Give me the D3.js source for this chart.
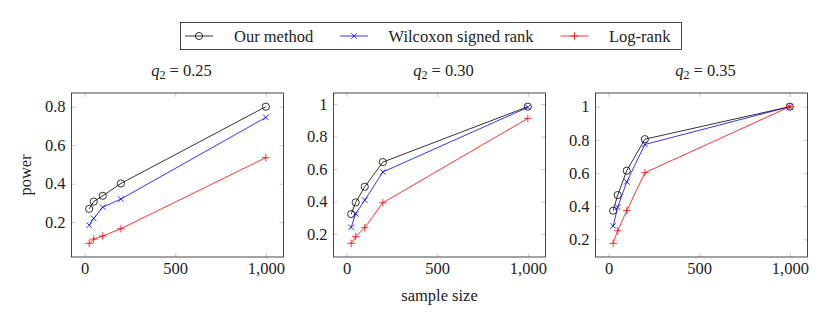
<!DOCTYPE html>
<html>
<head>
<meta charset="utf-8">
<script src="https://cdn.jsdelivr.net/npm/d3@7"></script>
<style>
  body { margin: 0; background: #fff; }
  svg text { font-family: "Liberation Serif", "DejaVu Serif", serif; fill: #222; }
</style>
</head>
<body>
<div id="chart"></div>
<script>
// data
const sampleSizes = [25, 50, 100, 200, 1000];
const q2Labels = ["0.25", "0.30", "0.35"];
const ourMethod = [
  [0.269, 0.307, 0.337, 0.401, 0.800],
  [0.323, 0.395, 0.491, 0.643, 0.984],
  [0.373, 0.467, 0.614, 0.804, 1.000]
];
const wilcoxon = [
  [0.184, 0.220, 0.278, 0.320, 0.744],
  [0.241, 0.325, 0.409, 0.582, 0.980],
  [0.281, 0.394, 0.547, 0.772, 1.000]
];
const logRank = [
  [0.090, 0.112, 0.128, 0.166, 0.535],
  [0.143, 0.184, 0.239, 0.393, 0.912],
  [0.176, 0.252, 0.373, 0.602, 1.000]
];
const yTicks = [
  [0.2, 0.4, 0.6, 0.8],
  [0.2, 0.4, 0.6, 0.8, 1],
  [0.2, 0.4, 0.6, 0.8, 1]
];
const xTicks = [0, 500, 1000];
const seriesNames = ["Our method", "Wilcoxon signed rank", "Log-rank"];

const W = 831, H = 326;
const fs = 16.5;
const svg = d3.select("#chart").append("svg")
  .attr("width", W).attr("height", H);

//series styles
const series = [
  {name: seriesNames[0], data: ourMethod, color: "#000", mark: "circle"},
  {name: seriesNames[1], data: wilcoxon, color: "#0000ff", mark: "cross"},
  {name: seriesNames[2], data: logRank, color: "#ff0000", mark: "plus"}
];

function drawMark(g, type, color, cx, cy) {
  if (type === "circle") {
    g.append("circle").attr("cx", cx).attr("cy", cy).attr("r", 3.6)
      .attr("fill", "none").attr("stroke", color).attr("stroke-width", 0.8);
  } else if (type === "cross") {
    const s = 2.8;
    g.append("path")
      .attr("d", `M${cx-s},${cy-s}L${cx+s},${cy+s}M${cx-s},${cy+s}L${cx+s},${cy-s}`)
      .attr("stroke", color).attr("stroke-width", 0.8);
  } else {
    const s = 3.8;
    g.append("path")
      .attr("d", `M${cx-s},${cy}L${cx+s},${cy}M${cx},${cy-s}L${cx},${cy+s}`)
      .attr("stroke", color).attr("stroke-width", 0.8);
  }
}

const panelLeft = [71.5, 333.5, 595.5];
const pw = 212, panelTop = 93, ph = 164;
const fmtX = d3.format(",");
const fmtY = d => String(+d.toFixed(1));
const tick = 4;

panelLeft.forEach(function(left, p) {
  const g = svg.append("g").attr("transform", "translate(" + left + "," + panelTop + ")");

  //pgfplots-style enlarged limits (10% each side)
  const xext = d3.extent(sampleSizes);
  const xpad = (xext[1] - xext[0]) * 0.1;
  const x = d3.scaleLinear().domain([xext[0] - xpad, xext[1] + xpad]).range([0, pw]);
  const all = ourMethod[p].concat(wilcoxon[p], logRank[p]);
  const yext = d3.extent(all);
  const ypad = (yext[1] - yext[0]) * 0.1;
  const y = d3.scaleLinear().domain([yext[0] - ypad, yext[1] + ypad]).range([ph, 0]);

  //axes with inward ticks on all sides
  const styleAxis = function(a) {
    a.select(".domain").remove();
    a.selectAll(".tick line").attr("stroke", "#b8b8b8").attr("stroke-width", 0.8);
    a.selectAll(".tick text").attr("font-size", fs).attr("fill", "#222");
  };
  g.append("g").attr("transform", "translate(0," + ph + ")")
    .call(d3.axisBottom(x).tickValues(xTicks).tickFormat(fmtX).tickSizeInner(-tick).tickSizeOuter(0).tickPadding(5))
    .call(styleAxis);
  g.append("g")
    .call(d3.axisTop(x).tickValues(xTicks).tickFormat("").tickSizeInner(-tick).tickSizeOuter(0))
    .call(styleAxis);
  g.append("g")
    .call(d3.axisLeft(y).tickValues(yTicks[p]).tickFormat(fmtY).tickSizeInner(-tick).tickSizeOuter(0).tickPadding(6))
    .call(styleAxis);
  g.append("g").attr("transform", "translate(" + pw + ",0)")
    .call(d3.axisRight(y).tickValues(yTicks[p]).tickFormat("").tickSizeInner(-tick).tickSizeOuter(0))
    .call(styleAxis);

  g.append("rect").attr("width", pw).attr("height", ph)
    .attr("fill", "none").attr("stroke", "#333").attr("stroke-width", 0.9);

  const line = d3.line().x((d, i) => x(sampleSizes[i])).y(d => y(d));
  series.forEach(function(s) {
    g.append("path").datum(s.data[p]).attr("d", line)
      .attr("fill", "none").attr("stroke", s.color).attr("stroke-width", 0.8);
    s.data[p].forEach(function(v, i) {
      drawMark(g, s.mark, s.color, x(sampleSizes[i]), y(v));
    });
  });

  //panel title
  const t = svg.append("text").attr("x", left + pw / 2 + 4).attr("y", 76)
    .attr("text-anchor", "middle").attr("font-size", fs);
  t.append("tspan").attr("font-style", "italic").text("q");
  t.append("tspan").attr("font-size", 12).attr("dy", 3).text("2");
  t.append("tspan").attr("dy", -3).text(" = " + q2Labels[p]);
});

//axis labels
svg.append("text").attr("transform", "translate(31,175) rotate(-90)")
  .attr("text-anchor", "middle").attr("font-size", fs).text("power");
svg.append("text").attr("x", 439.5).attr("y", 301)
  .attr("text-anchor", "middle").attr("font-size", fs).text("sample size");

//legend
const legend = svg.append("g");
legend.append("rect").attr("x", 180.5).attr("y", 22.5).attr("width", 501).attr("height", 27)
  .attr("fill", "#fff").attr("stroke", "#333").attr("stroke-width", 0.9);
const legendX = [185, 340, 560.5];
const legendTextX = [234, 388.5, 609];
series.forEach(function(s, i) {
  const lx = legendX[i], ly = 36;
  legend.append("path").attr("d", `M${lx},${ly}H${lx + 28}`)
    .attr("stroke", s.color).attr("stroke-width", 0.8);
  drawMark(legend, s.mark, s.color, lx + 14, ly);
  legend.append("text").attr("x", legendTextX[i]).attr("y", ly + 5.5)
    .attr("font-size", fs).text(s.name);
});
</script>
</body>
</html>
